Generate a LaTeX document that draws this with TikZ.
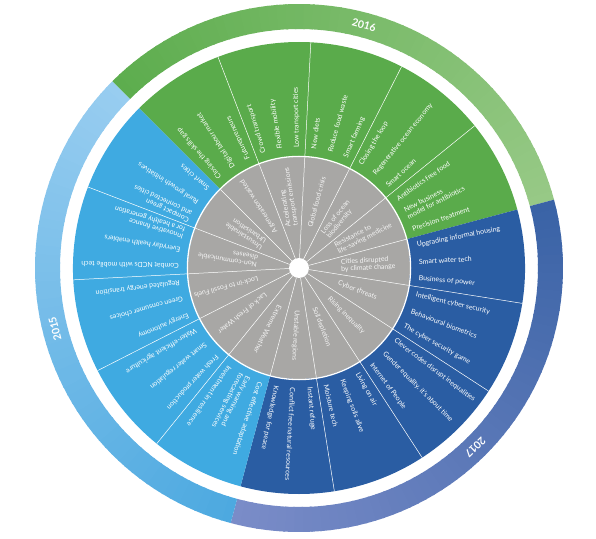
\documentclass[tikz,border=0pt]{standalone}
\usepackage{fontspec}
\setmainfont{Lato}
\definecolor{cG}{HTML}{5AAB4B}
\definecolor{cB}{HTML}{2A5DA3}
\definecolor{cL}{HTML}{3FAAE1}
\definecolor{cGr}{HTML}{A8A7A5}
\definecolor{r16a}{HTML}{5DAD4E}
\definecolor{r16b}{HTML}{97C986}
\definecolor{r17a}{HTML}{3A63A6}
\definecolor{r17b}{HTML}{7A8CC8}
\definecolor{r15a}{HTML}{4DA9E0}
\definecolor{r15b}{HTML}{98CDF0}
\begin{document}
\begin{tikzpicture}[x=1pt,y=1pt,
  item/.style={text=white, font=\fontsize{7}{7.6}\selectfont, align=left, inner sep=0pt, anchor=west},
  issue/.style={text=white!92!gray, font=\fontsize{6.9}{7.4}\selectfont, align=left, inner sep=0pt, anchor=west},
  year/.style={text=white, font=\bfseries\fontsize{10.5}{12}\selectfont, inner sep=0pt},
  sep/.style={draw=white, line width=0.5pt}]
\useasboundingbox (-299,-270) rectangle (297,268);

% outer year ring with gradients
\foreach \s/\cA/\cBB in {135/r16a/r16b, 15/r17a/r17b, -105/r15a/r15b} {
  \foreach \i in {0,...,59} {
    \pgfmathsetmacro{\a}{\s-2*\i}
    \pgfmathsetmacro{\b}{max(\a-2.4,\s-120)}
    \pgfmathtruncatemacro{\p}{round(100*\i/59)}
    \fill[\cBB!\p!\cA] (\a:264) arc[start angle=\a,end angle=\b,radius=264]
      -- (\b:239) arc[start angle=\b,end angle=\a,radius=239] -- cycle;
  }
}

% sectors
\fill[cG] (0,0) -- (135:226) arc[start angle=135,end angle=15,radius=226] -- cycle;
\fill[cB] (0,0) -- (15:226) arc[start angle=15,end angle=-105,radius=226] -- cycle;
\fill[cL] (0,0) -- (-105:226) arc[start angle=-105,end angle=-225,radius=226] -- cycle;

% separators in colored ring
\foreach \k in {1,2,3,4,6,7,8,9,11,12,13,14} {
  \pgfmathsetmacro{\a}{135-24*\k}
  \draw[sep] (\a:111) -- (\a:226);
}

% gray disk
\fill[cGr] (0,0) circle[radius=111];
\foreach \k in {0,...,14} {
  \pgfmathsetmacro{\a}{135-24*\k}
  \draw[sep] (\a:10) -- (\a:111);
}
\draw[white, line width=1.3pt] (0,0) circle[radius=111.6];
\fill[white] (0,0) circle[radius=10];

% opportunity labels
\foreach \ang/\txt [count=\n] in {
131/Closing the skills gap, 123/Digital labour market, 115/Futurepreneurs,
107/Crowd transport, 99/Flexible mobility, 91/Low transport cities,
83/New diets, 75/Reduce food waste, 67/Smart farming,
59/Closing the loop, 51/Regenerative ocean economy, 43/Smart ocean,
35/Antibiotics free food, 27/{New business\\model for antibiotics}, 19/Precision treatment,
11/Upgrading informal housing, 3/Smart water tech, -5/Business of power,
-13/Intelligent cyber security, -21/Behavioural biometrics, -29/The cyber security game,
-37/Clever codes disrupt inequalities, -45/{Gender equality, it's about time}, -53/Internet of People,
-61/Living on air, -69/Keeping soils alive, -77/Moisture tech,
-85/Instant refuge, -93/Conflict free natural resources, -101/Knowledge for peace,
251/Cost effective adaptation, 243/{Early warning and\\forecasting services}, 235/Investment in resilience,
227/Fresh water production, 219/Smart water regulation, 211/Water-efficient agriculture,
203/Energy autonomy, 195/Green consumer choices, 187/Regulated energy transition,
179/Combat NCDs with mobile tech, 171/Everyday health enablers, 163/{Innovative finance\\for a healthy generation},
155/{Compact green\\and connected cities}, 147/Rural growth initiatives, 139/Smart cities} {
  \node[item, rotate=\ang] (opp\n) at (\ang:120) {\txt};
}

% risk labels
\foreach \ang/\txt [count=\n] in {
123/A generation wasted, 99/{Accelerating\\transport emissions}, 75/Global food crisis,
51/{Loss of ocean\\biodiversity}, 27/{Resistance to\\life-saving medicine},
3/{Cities disrupted\\by climate change}, -21/Cyber threats, -45/Rising inequality,
-69/Soil depletion, -93/Unstable regions, 243/Extreme Weather, 219/Lack of Fresh Water,
195/Lock-in to Fossil Fuels, 171/{Non-communicable\\diseases}, 147/{Unsustainable\\Urbanisation}} {
  \node[issue, rotate=\ang] (risk\n) at (\ang:42) {\txt};
}

% years
\node[year, rotate=-15] (y2016) at (75:251.5) {2016};
\node[year, rotate=-135.5] (y2017) at (-45.5:251.5) {2017};
\node[year, rotate=104] (y2015) at (194:251.5) {2015};
\end{tikzpicture}
\end{document}
